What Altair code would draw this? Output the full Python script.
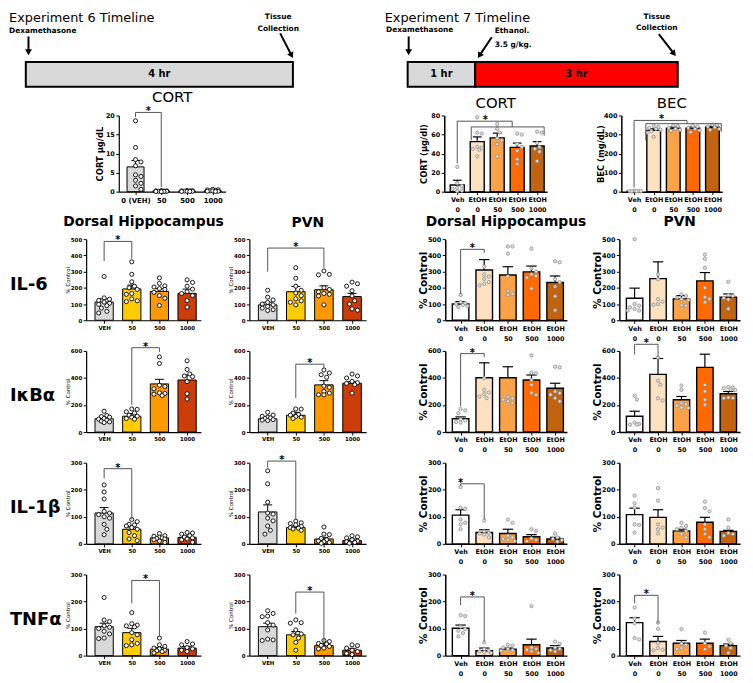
import json
import math
import altair as alt
import pandas as pd

FONT = "DejaVu Sans"

# ---------------------------------------------------------------- data
E6_LABELS = ["VEH", "50", "500", "1000"]
E6_CORT_LABELS = ["0 (VEH)", "50", "500", "1000"]
E7_LABELS = [["Veh", "0"], ["EtOH", "0"], ["EtOH", "50"], ["EtOH", "500"], ["EtOH", "1000"]]
E6_COLORS = ["#d9d9d9", "#ffcc00", "#ff9900", "#cc3d0a"]
E7_COLORS = ["#ffffff", "#fde2c2", "#f9a248", "#ff6a00", "#c2630f"]

TL6_SEG_START = [0]
TL6_SEG_END = [4]
TL6_SEG_TEXT = ["4 hr"]
TL6_SEG_COLOR = ["#d9d9d9"]
TL7_SEG_START = [0, 1]
TL7_SEG_END = [1, 4]
TL7_SEG_TEXT = ["1 hr", "3 hr"]
TL7_SEG_COLOR = ["#d9d9d9", "#ff0000"]

# significance brackets: [from, to, top, left bottom, right bottom, star position]
CORT6_MEAN = [6.5, 0.15, 0.15, 0.25]
CORT6_SEM = [1.7, 0.03, 0.03, 0.05]
CORT6_PTS = [[18.6, 11.6, 8.4, 7.8, 6.8, 4.4, 4.0, 3.0, 2.2, 1.5, 0.6],
             [0.3, 0.2, 0.2, 0.15, 0.1, 0.1, 0.1, 0.05, 0.05, 0.0],
             [0.3, 0.25, 0.2, 0.2, 0.15, 0.1, 0.1, 0.05, 0.05],
             [0.6, 0.5, 0.45, 0.3, 0.2, 0.2, 0.1, 0.1, 0.05]]
CORT6_SIG = [[0, 1, 20.8, 19.6, 1.2, 0.5]]

CORT7_MEAN = [7, 52.5, 56.5, 46.5, 48]
CORT7_SEM = [5, 5, 5, 4.5, 4.5]
CORT7_PTS = [[26, 9, 6, 4, 3, 1, 0.5], [78, 62, 61, 47, 46, 45, 44, 37],
             [71, 66, 62, 56, 54, 50, 37], [61, 60, 50, 47, 43, 34, 29],
             [63, 62, 51, 47, 45, 42, 32]]
CORT7_SIG = [[0.7, 4.35, 68, 54, 59, None], [0, 2.75, 74, 30, 68, 1.4]]

BEC_MEAN = [3, 322, 333, 333, 338]
BEC_SEM = [1.5, 8, 6, 6, 5]
BEC_PTS = [[6, 4, 3, 2, 2, 1], [345, 340, 335, 330, 325, 318, 310, 288],
           [348, 345, 335, 330, 325, 320], [345, 342, 335, 330, 322, 312],
           [352, 350, 342, 338, 330, 325]]
BEC_SIG = [[0.6, 4.45, 357, 270, 314, None], [0, 2.7, 374, 22, 357, 1.4]]

IL6_DH6_MEAN = [112, 193, 178, 166]
IL6_DH6_SEM = [20, 24, 16, 26]
IL6_DH6_PTS = [[270, 138, 130, 122, 112, 105, 98, 90, 75, 55, 45],
               [360, 283, 237, 210, 200, 190, 165, 160, 132, 120, 115],
               [261, 227, 212, 205, 195, 190, 172, 152, 136, 91],
               [249, 233, 210, 192, 176, 165, 152, 121, 81]]
IL6_DH6_SIG = [[0, 1, 486, 365, 380, 0.5]]

IL6_PVN6_MEAN = [95, 176, 188, 146]
IL6_PVN6_SEM = [16, 32, 24, 20]
IL6_PVN6_PTS = [[185, 142, 125, 110, 100, 95, 85, 75, 65, 60],
                [324, 259, 210, 185, 168, 152, 132, 120, 111, 95],
                [304, 283, 280, 200, 190, 175, 165, 160, 150, 95],
                [235, 225, 210, 182, 150, 120, 100, 70, 62]]
IL6_PVN6_SIG = [[0, 2, 445, 300, 324, 1.0]]

IL6_DH7_MEAN = [100, 310, 279, 298, 233]
IL6_DH7_SEM = [15, 64, 51, 36, 40]
IL6_DH7_PTS = [[156, 112, 105, 100, 95, 88, 82], [330, 283, 270, 255, 235, 225, 215],
               [455, 455, 411, 270, 182, 162, 156], [441, 320, 300, 283, 273, 263, 196],
               [364, 358, 253, 235, 208, 148, 61]]
IL6_DH7_SIG = [[0, 1, 437, 162, 415, 0.5]]

IL6_PVN7_MEAN = [136, 257, 132, 243, 142]
IL6_PVN7_SEM = [62, 103, 20, 51, 20]
IL6_PVN7_PTS = [[500, 100, 90, 80, 70, 60, 60], [283, 253, 130, 115, 100, 95],
                [160, 150, 140, 130, 125, 92, 90], [405, 379, 324, 200, 142, 132, 111],
                [237, 155, 150, 138, 128, 71]]
IL6_PVN7_SIG = []

IKBA_DH6_MEAN = [98, 117, 356, 385]
IKBA_DH6_SEM = [14, 20, 34, 37]
IKBA_DH6_PTS = [[154, 122, 115, 110, 100, 95, 88, 80, 75, 70],
                [171, 168, 150, 141, 125, 117, 110, 100, 95],
                [556, 507, 346, 337, 320, 290, 285, 280, 270],
                [527, 463, 430, 415, 410, 373, 283, 244]]
IKBA_DH6_SIG = [[1, 2, 624, 202, 593, 1.5]]

IKBA_PVN6_MEAN = [98, 124, 349, 361]
IKBA_PVN6_SEM = [12, 22, 31, 12]
IKBA_PVN6_PTS = [[146, 125, 117, 110, 105, 100, 92, 88, 85],
                 [171, 170, 140, 130, 125, 115, 110, 100],
                 [459, 437, 424, 405, 340, 330, 300, 288, 276, 275],
                 [429, 415, 400, 375, 365, 360, 350, 288]]
IKBA_PVN6_SIG = [[1, 2, 502, 250, 470, 1.5]]

IKBA_DH7_MEAN = [98, 402, 402, 385, 324]
IKBA_DH7_SEM = [14, 110, 81, 37, 37]
IKBA_DH7_PTS = [[170, 160, 140, 95, 85, 75, 70], [398, 312, 293, 280, 263, 251],
                [260, 250, 240, 227, 215], [568, 440, 434, 385, 350, 290, 276],
                [483, 478, 300, 288, 276, 251, 227]]
IKBA_DH7_SIG = [[0, 1, 580, 190, 556, 0.5]]

IKBA_PVN7_MEAN = [117, 427, 239, 478, 283]
IKBA_PVN7_SEM = [37, 117, 24, 98, 17]
IKBA_PVN7_PTS = [[268, 240, 70, 60, 55, 55], [551, 380, 350, 250, 234],
                 [344, 312, 215, 205, 195, 180, 178], [349, 300, 239, 202],
                 [332, 330, 325, 315, 310, 255, 252, 250]]
IKBA_PVN7_SIG = [[0, 1, 649, 575, 556, 0.5]]

IL1B_DH6_MEAN = [114, 54, 22, 24]
IL1B_DH6_SEM = [20, 8, 4, 5]
IL1B_DH6_PTS = [[218, 192, 166, 120, 114, 108, 100, 95, 72, 54, 34],
                [90, 82, 72, 70, 66, 60, 54, 42, 30, 18, 12],
                [38, 30, 28, 25, 22, 20, 18, 15, 10, 5],
                [42, 40, 36, 30, 25, 22, 18, 15, 6]]
IL1B_DH6_SIG = [[0, 1, 278, 242, 90, 0.5]]

IL1B_PVN6_MEAN = [118, 60, 18, 12]
IL1B_PVN6_SEM = [26, 6, 6, 6]
IL1B_PVN6_PTS = [[270, 222, 154, 114, 110, 95, 85, 66, 50, 36],
                 [84, 78, 75, 70, 65, 60, 58, 55, 50],
                 [62, 36, 34, 20, 15, 10, 8, 5, 2],
                 [30, 26, 22, 15, 10, 8, 5, 2]]
IL1B_PVN6_SIG = [[0, 1, 306, 282, 90, 0.5]]

IL1B_DH7_MEAN = [106, 42, 38, 26, 18]
IL1B_DH7_SEM = [20, 10, 16, 8, 6]
IL1B_DH7_PTS = [[210, 134, 130, 90, 78, 72, 54], [86, 46, 40, 38, 34, 24],
                [90, 78, 30, 24, 18, 14, 10], [54, 48, 20, 15, 10], [38, 24, 18, 14, 8]]
IL1B_DH7_SIG = [[0, 1, 222, 214, 90, 0.0]]

IL1B_PVN7_MEAN = [108, 98, 48, 80, 46]
IL1B_PVN7_SEM = [24, 28, 6, 18, 4]
IL1B_PVN7_PTS = [[178, 150, 134, 72, 70, 42], [206, 160, 72, 60, 54, 38],
                 [78, 66, 60, 54, 48, 36, 24], [156, 132, 120, 72, 54, 36, 24],
                 [90, 60, 40, 36, 30]]
IL1B_PVN7_SIG = []

TNF_DH6_MEAN = [107, 85, 24, 28]
TNF_DH6_SEM = [13, 16, 6, 6]
TNF_DH6_PTS = [[215, 132, 126, 110, 105, 100, 90, 80, 65, 63],
               [159, 118, 113, 110, 106, 85, 77, 59, 45, 40, 37],
               [65, 40, 34, 28, 25, 20, 18, 15, 10],
               [52, 43, 40, 30, 25, 20, 15]]
TNF_DH6_SIG = [[1, 2, 278, 193, 71, 1.5]]

TNF_PVN6_MEAN = [107, 77, 37, 20]
TNF_PVN6_SEM = [13, 12, 7, 7]
TNF_PVN6_PTS = [[166, 156, 146, 144, 122, 113, 95, 61, 58, 56],
                [132, 122, 120, 95, 80, 77, 65, 49, 20],
                [56, 52, 45, 43, 38, 34, 28, 25],
                [40, 37, 28, 20, 15, 8, 4]]
TNF_PVN6_SIG = [[1, 2, 235, 156, 46, 1.5]]

TNF_DH7_MEAN = [101, 18, 24, 40, 28]
TNF_DH7_SEM = [12, 10, 4, 21, 9]
TNF_DH7_PTS = [[150, 146, 107, 98, 92, 83, 71], [49, 24, 18, 16, 12, 10],
               [40, 37, 30, 25, 20, 18], [183, 30, 25, 22, 16, 10], [52, 44, 30, 25, 20, 15]]
TNF_DH7_SIG = [[0, 1, 217, 187, 52, 0.5]]

TNF_PVN7_MEAN = [122, 52, 46, 46, 37]
TNF_PVN7_SEM = [18, 19, 10, 15, 6]
TNF_PVN7_PTS = [[178, 137, 120, 65, 60], [122, 99, 46, 28, 22, 20], [98, 45, 40, 28, 25],
                [85, 46, 34, 24], [59, 46, 37, 28, 10]]
TNF_PVN7_SIG = [[0, 1, 223, 193, 120, 0.5]]

ROW_LABELS = ["IL-6", "IκBα", "IL-1β", "TNFα"]

# ---------------------------------------------------------------- styles
ST6 = dict(bw=0.33, cap=0.16, xfs=5.5, yfs=5.5, ytfs=5.5, ytfw="normal", ext=13, ytp=3,
           dw=1.2, bsw=1, esw=1, pfill="white", pstroke="black", psw=0.9, psize=17,
           xlh=8, diam=5.0, maxoff=8)
ST7 = dict(bw=0.35, cap=0.22, xfs=6.5, yfs=6.5, ytfs=10.5, ytfw="bold", ext=15, ytp=2,
           dw=1.5, bsw=1.4, esw=1.2, pfill="#e2e2e2", pstroke="#8c8c8c", psw=0.8, psize=11,
           xlh=10, diam=4.2, maxoff=7)
STC6 = dict(ST6, xfs=7, yfs=6.5, ytfs=8.5, ytfw="bold", ext=12, ytp=2, xlh=9)
STC7 = dict(ST7, xfs=6.5, yfs=6.5, ytfs=8.5, ytfw="bold", ext=14, ytp=2)


def swarm(vals, ymax, height, step_px, diam, maxoff):
    ypx = [v / ymax * height for v in vals]
    order = sorted(range(len(vals)), key=lambda k: -vals[k])
    s = diam * 0.55
    cands = [0.0]
    k = 1
    while k * s <= maxoff + 1e-9:
        cands += [k * s, -k * s]
        k += 1
    placed, off = [], [0.0] * len(vals)
    for idx in order:
        y = ypx[idx]
        best, bestc, bestscore = None, 0.0, -1
        for c in cands:
            md = min([math.hypot(c - px, y - py) for px, py in placed], default=1e9)
            if md >= diam:
                best = c
                break
            if md > bestscore:
                bestscore, bestc = md, c
        if best is None:
            best = bestc
        placed.append((best, y))
        off[idx] = best
    return [o / step_px for o in off]


def bar_panel(labels, colors, means, sems, pts, sig, ymax, ystep, width, height, st,
              ytitle, title=None):
    n = len(labels)
    lo, hi = -0.65, n - 0.5
    step = width / (hi - lo)
    xscale = alt.Scale(domain=[lo, hi], nice=False, zero=False)
    yscale = alt.Scale(domain=[0, ymax], nice=False, zero=True)
    xaxis = alt.Axis(values=list(range(n)), labelExpr=json.dumps(labels) + "[datum.value]",
                     title=None, grid=False, labelAngle=0, labelFontSize=st["xfs"],
                     labelFontWeight="bold", labelColor="black", labelPadding=2,
                     labelLineHeight=st["xlh"], labelFlush=False, labelOverlap=False,
                     labelBound=False, tickSize=3, tickColor="black", tickWidth=1,
                     domainColor="black", domainWidth=st["dw"])
    yaxis = alt.Axis(values=list(range(0, ymax + 1, ystep)), title=ytitle, grid=False,
                     labelFontSize=st["yfs"], labelFontWeight="bold", labelColor="black",
                     labelPadding=1.5, labelFlush=False, labelOverlap=False, tickSize=3,
                     tickColor="black", tickWidth=1, domainColor="black",
                     domainWidth=st["dw"], minExtent=st["ext"], maxExtent=st["ext"],
                     titleFontSize=st["ytfs"], titleFontWeight=st["ytfw"],
                     titleColor="black", titlePadding=st["ytp"])

    def X(f):
        return alt.X(f, scale=xscale, axis=xaxis)

    def Y(f):
        return alt.Y(f, scale=yscale, axis=yaxis)

    bdf = pd.DataFrame({"i": list(range(n)), "mean": means, "sem": sems, "color": colors})
    base = alt.Chart(bdf).transform_calculate(
        x0=f"datum.i - {st['bw']}", x1=f"datum.i + {st['bw']}",
        c0=f"datum.i - {st['cap']}", c1=f"datum.i + {st['cap']}",
        top="datum.mean + datum.sem", zero="0")
    bars = base.mark_rect(stroke="black", strokeWidth=st["bsw"]).encode(
        x=X("x0:Q"), x2="x1:Q", y=Y("mean:Q"), y2="zero:Q",
        fill=alt.Fill("color:N", scale=None))
    err = base.mark_rule(color="black", strokeWidth=st["esw"]).encode(
        x=X("i:Q"), y=Y("mean:Q"), y2="top:Q")
    cap = base.mark_rule(color="black", strokeWidth=st["esw"]).encode(
        x=X("c0:Q"), x2="c1:Q", y=Y("top:Q"))

    rows = []
    for gi, vals in enumerate(pts):
        offs = swarm(vals, ymax, height, step, st["diam"], st["maxoff"])
        for v, o in zip(vals, offs):
            rows.append({"i": gi, "v": v, "off": o})
    pdf = pd.DataFrame(rows)
    dots = alt.Chart(pdf).transform_calculate(px="datum.i + datum.off").mark_circle(
        fill=st["pfill"], stroke=st["pstroke"], strokeWidth=st["psw"], size=st["psize"],
        opacity=1).encode(x=X("px:Q"), y=Y("v:Q"))
    layers = [bars, err, cap, dots]

    if sig:
        sdf = pd.DataFrame(sig, columns=["i", "j", "top", "lb", "rb", "sx"])
        sc = "#555555"
        layers.append(alt.Chart(sdf).mark_rule(color=sc, strokeWidth=1).encode(
            x=X("i:Q"), x2="j:Q", y=Y("top:Q")))
        layers.append(alt.Chart(sdf).mark_rule(color=sc, strokeWidth=1).encode(
            x=X("i:Q"), y=Y("lb:Q"), y2="top:Q"))
        layers.append(alt.Chart(sdf).mark_rule(color=sc, strokeWidth=1).encode(
            x=X("j:Q"), y=Y("rb:Q"), y2="top:Q"))
        stars = sdf.dropna(subset=["sx"])[["sx", "top"]]
        layers.append(alt.Chart(stars).mark_text(
            text="*", baseline="bottom", dy=4, fontSize=10, fontWeight="bold",
            color="black").encode(x=X("sx:Q"), y=Y("top:Q")))

    ch = alt.layer(*layers).properties(width=width, height=height)
    if title:
        ch = ch.properties(title=title)
    return ch


def spacer(w, h):
    return alt.Chart(pd.DataFrame({"a": [0]})).mark_point(opacity=0, size=1).encode(
        x=alt.value(w / 2), y=alt.value(h / 2)).properties(width=w, height=h)


def row_label(text, w, h):
    return alt.Chart(pd.DataFrame({"t": [text]})).mark_text(
        align="left", baseline="middle", fontSize=18, fontWeight="bold",
        color="black").encode(text="t:N", x=alt.value(2), y=alt.value(h / 2 + 5)).properties(
        width=w, height=h)


def timeline(seg_start, seg_end, seg_text, seg_color, texts, arrows, width, origin, pxh):
    H = 76
    xs = alt.Scale(domain=[-origin / pxh, (width - origin) / pxh], nice=False, zero=False)
    ys = alt.Scale(domain=[0, 10], nice=False, zero=False)
    pxv = H / 10.0

    def X(f):
        return alt.X(f, scale=xs, axis=None)

    def Y(f):
        return alt.Y(f, scale=ys, axis=None)

    sdf = pd.DataFrame({"s": seg_start, "e": seg_end, "t": seg_text, "c": seg_color})
    sbase = alt.Chart(sdf).transform_calculate(lo="0", hi="3.3", mid="(datum.s + datum.e) / 2",
                                               vm="1.65")
    rect = sbase.mark_rect(stroke="black", strokeWidth=2).encode(
        x=X("s:Q"), x2="e:Q", y=Y("lo:Q"), y2="hi:Q", fill=alt.Fill("c:N", scale=None))
    stext = sbase.mark_text(fontSize=10, fontWeight="bold", color="black",
                            baseline="middle").encode(x=X("mid:Q"), y=Y("vm:Q"), text="t:N")
    layers = [rect, stext]
    tdf = pd.DataFrame(texts, columns=["h", "v", "t", "align", "baseline", "size", "weight"])
    for (al, bl, sz, wt), g in tdf.groupby(["align", "baseline", "size", "weight"]):
        layers.append(alt.Chart(g[["h", "v", "t"]]).mark_text(
            align=al, baseline=bl, fontSize=sz, fontWeight=wt, color="black").encode(
            x=X("h:Q"), y=Y("v:Q"), text="t:N"))
    adf = pd.DataFrame(arrows, columns=["h0", "v0", "h1", "v1"])
    adf["ang"] = [
        (math.degrees(math.atan2(-(r.h1 - r.h0) * pxh, -(r.v1 - r.v0) * pxv)) + 360) % 360
        for r in adf.itertuples()]
    layers.append(alt.Chart(adf).mark_rule(color="black", strokeWidth=2).encode(
        x=X("h0:Q"), x2="h1:Q", y=Y("v0:Q"), y2="v1:Q"))
    layers.append(alt.Chart(adf).mark_point(shape="triangle-down", filled=True, color="black",
                                            size=48, opacity=1).encode(
        x=X("h1:Q"), y=Y("v1:Q"), angle=alt.Angle("ang:Q", scale=None)))
    return alt.layer(*layers).properties(width=width, height=H)


# ---------------------------------------------------------------- row A: timelines
TL6_W, TL6_O, TL6_PX = 375, 18, 67.5
TL7_W, TL7_O, TL7_PX = 365, 24, 68.25
tl6 = timeline(
    TL6_SEG_START, TL6_SEG_END, TL6_SEG_TEXT, TL6_SEG_COLOR,
    [[-0.25, 10, "Experiment 6 Timeline", "left", "top", 13, "normal"],
     [-0.25, 7.37, "Dexamethasone", "left", "middle", 7.5, "bold"],
     [3.78, 9.3, "Tissue", "center", "middle", 7.5, "bold"],
     [3.78, 7.63, "Collection", "center", "middle", 7.5, "bold"]],
    [[0.04, 6.7, 0.04, 4.6], [3.81, 7.1, 3.98, 4.17]],
    TL6_W, TL6_O, TL6_PX)
tl7 = timeline(
    TL7_SEG_START, TL7_SEG_END, TL7_SEG_TEXT, TL7_SEG_COLOR,
    [[-0.34, 10, "Experiment 7 Timeline", "left", "top", 13, "normal"],
     [-0.32, 7.5, "Dexamethasone", "left", "middle", 7.5, "bold"],
     [1.29, 7.45, "Ethanol.", "left", "middle", 7.5, "bold"],
     [1.29, 5.6, "3.5 g/kg.", "left", "middle", 7.5, "bold"],
     [3.69, 9.3, "Tissue", "center", "middle", 7.5, "bold"],
     [3.69, 7.8, "Collection", "center", "middle", 7.5, "bold"]],
    [[0.015, 6.7, 0.015, 4.6], [1.245, 6.6, 1.063, 4.15], [3.72, 7.0, 3.944, 4.4]],
    TL7_W, TL7_O, TL7_PX)
row_a = alt.hconcat(tl6, spacer(5, 76), tl7, spacing=0, bounds="flush")

# ---------------------------------------------------------------- row B: CORT / BEC
CH = 77
ctitle = lambda t: alt.TitleParams(text=t, fontSize=15, fontWeight="normal", offset=2,
                                   color="black", anchor="middle")
cort6 = bar_panel(E6_CORT_LABELS, E6_COLORS, CORT6_MEAN, CORT6_SEM, CORT6_PTS, CORT6_SIG,
                  20, 5, 108, CH, STC6, "CORT µg/dL", ctitle("CORT"))
cort7 = bar_panel(E7_LABELS, E7_COLORS, CORT7_MEAN, CORT7_SEM, CORT7_PTS, CORT7_SIG,
                  80, 20, 104, CH, STC7, "CORT (µg/dl)", ctitle("CORT"))
bec = bar_panel(E7_LABELS, E7_COLORS, BEC_MEAN, BEC_SEM, BEC_PTS, BEC_SIG,
                400, 100, 102, CH, STC7, "BEC (mg/dL)", ctitle("BEC"))
row_b = alt.hconcat(spacer(112, CH), cort6, spacer(221, CH), cort7, spacer(75, CH), bec,
                    spacing=0, bounds="flush")

# ---------------------------------------------------------------- rows C-F: cytokines
PH = 82
ptitle = lambda t: alt.TitleParams(text=t, fontSize=14, fontWeight="bold", offset=7,
                                   color="black", anchor="middle")
ROWS = [
    (500, 100, [IL6_DH6_MEAN, IL6_DH6_SEM, IL6_DH6_PTS, IL6_DH6_SIG],
     [IL6_PVN6_MEAN, IL6_PVN6_SEM, IL6_PVN6_PTS, IL6_PVN6_SIG],
     [IL6_DH7_MEAN, IL6_DH7_SEM, IL6_DH7_PTS, IL6_DH7_SIG],
     [IL6_PVN7_MEAN, IL6_PVN7_SEM, IL6_PVN7_PTS, IL6_PVN7_SIG]),
    (600, 200, [IKBA_DH6_MEAN, IKBA_DH6_SEM, IKBA_DH6_PTS, IKBA_DH6_SIG],
     [IKBA_PVN6_MEAN, IKBA_PVN6_SEM, IKBA_PVN6_PTS, IKBA_PVN6_SIG],
     [IKBA_DH7_MEAN, IKBA_DH7_SEM, IKBA_DH7_PTS, IKBA_DH7_SIG],
     [IKBA_PVN7_MEAN, IKBA_PVN7_SEM, IKBA_PVN7_PTS, IKBA_PVN7_SIG]),
    (300, 100, [IL1B_DH6_MEAN, IL1B_DH6_SEM, IL1B_DH6_PTS, IL1B_DH6_SIG],
     [IL1B_PVN6_MEAN, IL1B_PVN6_SEM, IL1B_PVN6_PTS, IL1B_PVN6_SIG],
     [IL1B_DH7_MEAN, IL1B_DH7_SEM, IL1B_DH7_PTS, IL1B_DH7_SIG],
     [IL1B_PVN7_MEAN, IL1B_PVN7_SEM, IL1B_PVN7_PTS, IL1B_PVN7_SIG]),
    (300, 100, [TNF_DH6_MEAN, TNF_DH6_SEM, TNF_DH6_PTS, TNF_DH6_SIG],
     [TNF_PVN6_MEAN, TNF_PVN6_SEM, TNF_PVN6_PTS, TNF_PVN6_SIG],
     [TNF_DH7_MEAN, TNF_DH7_SEM, TNF_DH7_PTS, TNF_DH7_SIG],
     [TNF_PVN7_MEAN, TNF_PVN7_SEM, TNF_PVN7_PTS, TNF_PVN7_SIG]),
]
cells = []
for r, (ymax, ystep, d6, p6, d7, p7) in enumerate(ROWS):
    first = r == 0
    cells.append(row_label(ROW_LABELS[r], 79, PH))
    cells.append(bar_panel(E6_LABELS, E6_COLORS, *d6, ymax, ystep, 116, PH, ST6, "% Control",
                           ptitle("Dorsal Hippocampus") if first else None))
    cells.append(spacer(49, PH))
    cells.append(bar_panel(E6_LABELS, E6_COLORS, *p6, ymax, ystep, 118, PH, ST6, "% Control",
                           ptitle("PVN") if first else None))
    cells.append(spacer(80, PH))
    cells.append(bar_panel(E7_LABELS, E7_COLORS, *d7, ymax, ystep, 123, PH, ST7, "% Control",
                           ptitle("Dorsal Hippocampus") if first else None))
    cells.append(spacer(53, PH))
    cells.append(bar_panel(E7_LABELS, E7_COLORS, *p7, ymax, ystep, 122, PH, ST7, "% Control",
                           ptitle("PVN") if first else None))

grid = alt.concat(*cells, columns=8, align="each", bounds="flush",
                  spacing={"row": 31, "column": 0})

chart = alt.vconcat(row_a, row_b, grid, spacing=1).properties(
    padding=0, background="white").configure_view(stroke=None).configure_axis(
    labelFont=FONT, titleFont=FONT).configure_title(font=FONT).configure_text(font=FONT)

chart.save("out.html", embed_options={"renderer": "svg", "actions": False})
